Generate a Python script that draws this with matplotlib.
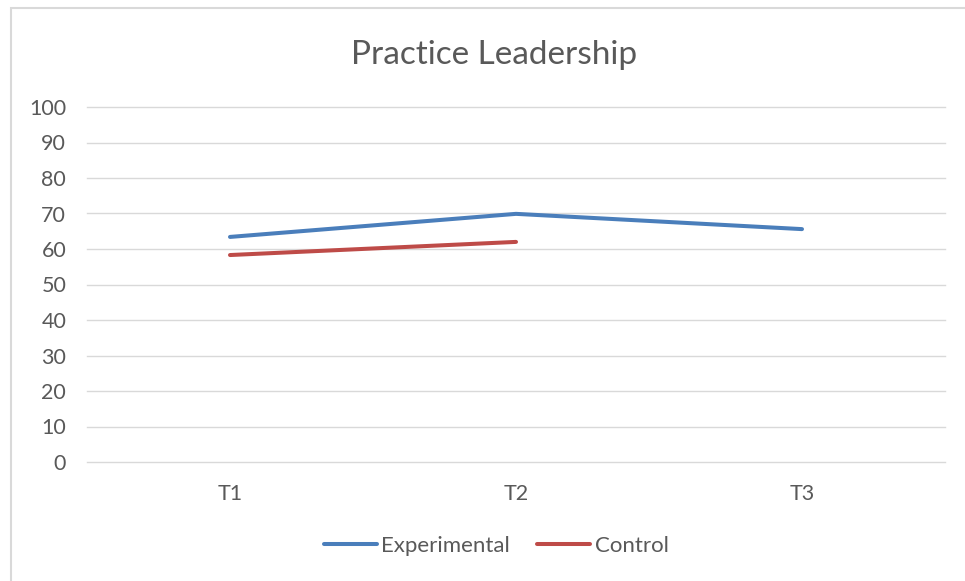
import matplotlib.pyplot as plt
from matplotlib.patches import Rectangle

plt.rcParams['font.family'] = ['Lato', 'DejaVu Sans']

times = ['T1', 'T2', 'T3']
experimental = [63.4, 69.9, 65.6]
control = [58.3, 62.0]

W, H = 965, 581
fig = plt.figure(figsize=(W / 100, H / 100), dpi=100)

# chart frame (only left and top edges visible in the crop)
fig.patches.append(Rectangle((11 / W, -0.1), 1.2, 1 - 8 / H + 0.1,
                             transform=fig.transFigure, fill=False,
                             edgecolor='#d9d9d9', linewidth=1.5))

ax = fig.add_axes([87 / W, 1 - 462 / H, (945 - 87) / W, (462 - 107) / H])

x = range(len(times))
ax.plot(x, experimental, color='#4a7ebb', linewidth=2.9, label='Experimental',
        solid_capstyle='round')
ax.plot(x[:len(control)], control, color='#be4b48', linewidth=2.9, label='Control',
        solid_capstyle='round')

ax.set_xlim(-0.5, 2.5)
ax.set_ylim(0, 100)
ax.set_yticks(range(0, 101, 10))
ax.set_xticks(list(x))
ax.set_xticklabels(times)
ax.grid(axis='y', color='#d9d9d9', linewidth=1)
for gl in ax.get_ygridlines():
    gl.set_clip_on(False)
ax.set_axisbelow(True)
for s in ax.spines.values():
    s.set_visible(False)
ax.tick_params(length=0, labelsize=15.5, colors='#595959', pad=15)
ax.tick_params(axis='x', pad=16)

fig.text(494 / W, 1 - 55 / H, 'Practice Leadership', ha='center', va='center',
         fontsize=24, color='#595959')

fig.legend(loc='center', bbox_to_anchor=(496 / W, 1 - 546 / H), ncol=2,
           frameon=False, fontsize=16, labelcolor='#595959',
           handlelength=2.4, handletextpad=0.2, columnspacing=1.2)

fig.savefig('out.png', dpi=100)
